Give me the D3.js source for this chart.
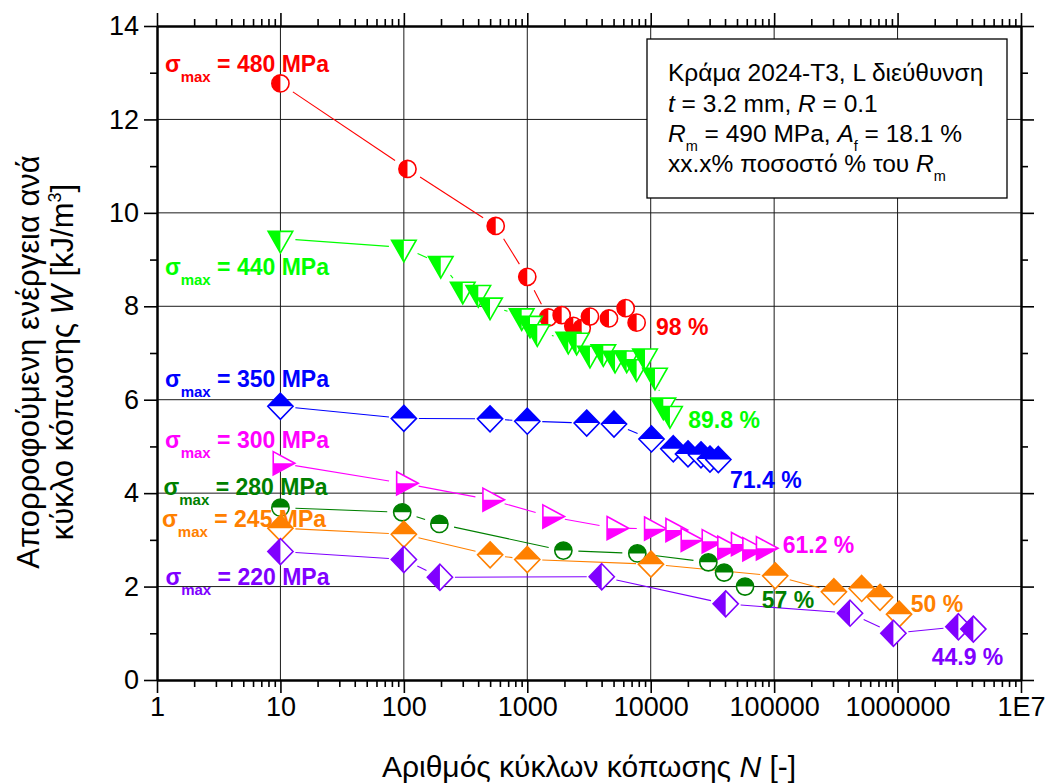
<!DOCTYPE html>
<html>
<head>
<meta charset="utf-8">
<script src="https://cdn.jsdelivr.net/npm/d3@7"></script>
<style>
  body { margin: 0; background: #fff; }
  svg { display: block; }
  text { font-family: "Liberation Sans", Arial, sans-serif; }
</style>
</head>
<body>
<svg id="chart" width="1056" height="784"></svg>
<script>
// ---- data: fatigue cycles N and absorbed energy per cycle W (kJ/m^3) ----
const stressLevels = [480, 440, 350, 300, 280, 245, 220];
const percentLabels = ["98 %", "89.8 %", "71.4 %", "61.2 %", "57 %", "50 %", "44.9 %"];

const cycles480 = [10, 107, 555, 1000, 1480, 1900, 2360, 2760, 3220, 4590, 6270, 7690];
const energy480 = [12.77, 10.94, 9.72, 8.63, 7.76, 7.81, 7.58, 7.53, 7.78, 7.74, 7.96, 7.65];

const cycles440 = [10, 100, 199, 300, 401, 499, 901, 1052, 1205, 2148, 2512, 3220, 4130, 5140, 6390, 7690, 8990, 10830, 12650, 14320];
const energy440 = [9.45, 9.26, 8.91, 8.36, 8.29, 8.02, 7.79, 7.63, 7.45, 7.29, 7.27, 6.99, 7.02, 6.88, 6.89, 6.70, 6.93, 6.52, 5.88, 5.70];

const cycles350 = [10, 100, 499, 1000, 3030, 5040, 10150, 15240, 20050, 25550, 30200, 35300];
const energy350 = [5.86, 5.60, 5.59, 5.54, 5.50, 5.48, 5.16, 4.95, 4.84, 4.82, 4.73, 4.72];

const cycles300 = [10, 100, 500, 1530, 5070, 10200, 15200, 20200, 29900, 40000, 51600, 63800, 82200];
const energy300 = [4.64, 4.21, 3.86, 3.50, 3.25, 3.24, 3.21, 3.00, 2.97, 2.83, 2.91, 2.80, 2.82];

const cycles280 = [10, 97, 194, 1960, 7790, 29300, 39300, 58100];
const energy280 = [3.69, 3.59, 3.34, 2.77, 2.71, 2.52, 2.30, 2.00];

const cycles245 = [10, 100, 500, 1000, 10050, 102000, 305000, 512000, 721000, 1028000];
const energy245 = [3.25, 3.12, 2.68, 2.58, 2.48, 2.23, 1.89, 1.96, 1.77, 1.41];

const cycles220 = [10, 100, 196, 4010, 40500, 412000, 925000, 3110000, 4110000];
const energy220 = [2.75, 2.58, 2.20, 2.21, 1.63, 1.43, 1.00, 1.14, 1.09];

const xTickValues = [1, 10, 100, 1e3, 1e4, 1e5, 1e6, 1e7];
const xTickLabels = ["1", "10", "100", "1000", "10000", "100000", "1000000", "1E7"];
const yTickValues = [0, 2, 4, 6, 8, 10, 12, 14];
const yMinorValues = [1, 3, 5, 7, 9, 11, 13];

// ---- annotation anchors, in data units (N, W) ----
const stressLabelAt = [[1.16, 13.02], [1.16, 8.67], [1.16, 6.27], [1.16, 4.96], [1.13, 3.96], [1.10, 3.28], [1.17, 2.03]];
const percentLabelAt = [[11040, 7.39], [20150, 5.39], [43900, 4.11], [117300, 2.71], [79300, 1.535], [1277000, 1.46], [1889000, 0.32]];

// ---- styling ----
const seriesColors = ["#ff0000", "#00ff00", "#0000ff", "#ff00ff", "#008000", "#ff8000", "#8000ff"];
const seriesShapes = ["circle", "triDown", "diamond", "triRight", "circle", "diamond", "diamond"];
const seriesHalves = ["left", "left", "top", "bottom", "top", "top", "left"];

const series = stressLevels.map((s, i) => ({
  stress: s,
  N: [cycles480, cycles440, cycles350, cycles300, cycles280, cycles245, cycles220][i],
  W: [energy480, energy440, energy350, energy300, energy280, energy245, energy220][i],
  color: seriesColors[i],
  shape: seriesShapes[i],
  half: seriesHalves[i],
  pct: percentLabels[i]
}));

const svg = d3.select("#chart");
const x = d3.scaleLog().domain([1, 1e7]).range([157, 1021]);
const y = d3.scaleLinear().domain([0, 14]).range([680, 26]);
const [x0, x1] = x.range();
const [y0, y1] = y.range();

// clip regions for the half-filled symbols (local symbol coordinates)
const defs = svg.append("defs");
const halves = {
  left: [-30, -30, 30, 60],
  right: [0, -30, 30, 60],
  top: [-30, -30, 60, 30],
  bottom: [-30, 0, 60, 30]
};
Object.entries(halves).forEach(([k, r]) => {
  defs.append("clipPath").attr("id", "half-" + k)
    .append("rect").attr("x", r[0]).attr("y", r[1]).attr("width", r[2]).attr("height", r[3]);
});

function shapePath(shape) {
  const p = d3.path();
  if (shape === "circle") {
    p.arc(0, 0, 8.6, 0, 2 * Math.PI);
  } else if (shape === "triDown") {
    p.moveTo(-12.3, -7.2); p.lineTo(12.3, -7.2); p.lineTo(0, 14.4); p.closePath();
  } else if (shape === "triRight") {
    p.moveTo(-7.2, -11.6); p.lineTo(14.4, 0); p.lineTo(-7.2, 11.6); p.closePath();
  } else {
    p.moveTo(0, -13); p.lineTo(12.6, 0); p.lineTo(0, 13); p.lineTo(-12.6, 0); p.closePath();
  }
  return p.toString();
}

// ---- grid ----
const grid = svg.append("g").attr("stroke", "#1a1a1a").attr("stroke-width", 1);
xTickValues.slice(1, -1).forEach(v => {
  grid.append("line").attr("x1", x(v)).attr("x2", x(v)).attr("y1", y0).attr("y2", y1);
});
yTickValues.slice(1, -1).forEach(v => {
  grid.append("line").attr("x1", x0).attr("x2", x1).attr("y1", y(v)).attr("y2", y(v));
});

// ---- connecting lines, broken around each symbol ----
const gap = 15;
const lines = svg.append("g").attr("fill", "none").attr("stroke-width", 1.1);
series.forEach(s => {
  const pts = s.N.map((n, i) => [x(n), y(s.W[i])]);
  for (let i = 0; i < pts.length - 1; i++) {
    const [ax, ay] = pts[i], [bx, by] = pts[i + 1];
    const dx = bx - ax, dy = by - ay, d = Math.hypot(dx, dy);
    if (d <= 2 * gap + 1) continue;
    const ux = dx / d, uy = dy / d;
    lines.append("line")
      .attr("x1", ax + ux * gap).attr("y1", ay + uy * gap)
      .attr("x2", bx - ux * gap).attr("y2", by - uy * gap)
      .attr("stroke", s.color);
  }
});

// ---- symbols ----
series.forEach(s => {
  const d = shapePath(s.shape);
  const g = svg.append("g");
  s.N.forEach((n, i) => {
    const m = g.append("g").attr("transform", `translate(${x(n)},${y(s.W[i])})`);
    m.append("path").attr("d", d).attr("fill", "#fff");
    m.append("path").attr("d", d).attr("fill", s.color).attr("clip-path", `url(#half-${s.half})`);
    m.append("path").attr("d", d).attr("fill", "none").attr("stroke", s.color).attr("stroke-width", 1.6);
  });
});

// ---- series annotations ----
series.forEach((s, i) => {
  const [ln, lw] = stressLabelAt[i];
  const t = svg.append("text")
    .attr("x", x(ln)).attr("y", y(lw))
    .attr("fill", s.color).attr("font-weight", "bold").attr("font-size", 23);
  t.append("tspan").text("σ");
  t.append("tspan").attr("font-size", 15).attr("dy", 10).text("max");
  t.append("tspan").attr("dy", -10).text(" = " + s.stress + " MPa");

  const [pn, pw] = percentLabelAt[i];
  svg.append("text")
    .attr("x", x(pn)).attr("y", y(pw))
    .attr("fill", s.color).attr("font-weight", "bold").attr("font-size", 23)
    .text(s.pct);
});

// ---- axes ----
const xMinor = [];
xTickValues.slice(0, -1).forEach(d => { for (let m = 2; m <= 9; m++) xMinor.push(d * m); });

function styleAxis(g) {
  g.selectAll("path.domain").attr("stroke", "#000").attr("stroke-width", 2);
  g.selectAll(".tick line").attr("stroke", "#000").attr("stroke-width", 1.6);
}
const tickFont = g => g.selectAll("text").attr("font-size", 27).attr("fill", "#000")
  .attr("font-family", '"Liberation Sans", Arial, sans-serif');

const xLabelFor = v => xTickLabels[xTickValues.indexOf(v)];
const MAJOR = 13, MINOR = 7;

svg.append("g").attr("transform", `translate(0,${y0})`)
  .call(d3.axisBottom(x).tickValues(xTickValues).tickFormat(xLabelFor).tickSize(MAJOR).tickSizeOuter(0).tickPadding(4))
  .call(styleAxis).call(tickFont);
svg.append("g").attr("transform", `translate(0,${y0})`)
  .call(d3.axisBottom(x).tickValues(xMinor).tickFormat("").tickSize(MINOR).tickSizeOuter(0))
  .call(styleAxis);

svg.append("g").attr("transform", `translate(0,${y1})`)
  .call(d3.axisTop(x).tickValues(xTickValues).tickFormat("").tickSize(MAJOR).tickSizeOuter(0))
  .call(styleAxis);
svg.append("g").attr("transform", `translate(0,${y1})`)
  .call(d3.axisTop(x).tickValues(xMinor).tickFormat("").tickSize(MINOR).tickSizeOuter(0))
  .call(styleAxis);

svg.append("g").attr("transform", `translate(${x0},0)`)
  .call(d3.axisLeft(y).tickValues(yTickValues).tickFormat(d3.format("d")).tickSize(MAJOR).tickSizeOuter(0).tickPadding(5))
  .call(styleAxis).call(tickFont);
svg.append("g").attr("transform", `translate(${x0},0)`)
  .call(d3.axisLeft(y).tickValues(yMinorValues).tickFormat("").tickSize(MINOR).tickSizeOuter(0))
  .call(styleAxis);

svg.append("g").attr("transform", `translate(${x1},0)`)
  .call(d3.axisRight(y).tickValues(yTickValues).tickFormat("").tickSize(MAJOR).tickSizeOuter(0))
  .call(styleAxis);
svg.append("g").attr("transform", `translate(${x1},0)`)
  .call(d3.axisRight(y).tickValues(yMinorValues).tickFormat("").tickSize(MINOR).tickSizeOuter(0))
  .call(styleAxis);

// ---- axis titles ----
const xt = svg.append("text").attr("x", 589).attr("y", 777)
  .attr("text-anchor", "middle").attr("font-size", 30).attr("fill", "#000");
xt.append("tspan").text("Αριθμός κύκλων κόπωσης ");
xt.append("tspan").attr("font-style", "italic").text("N");
xt.append("tspan").text(" [-]");

const yc = 362;
svg.append("text").attr("transform", `translate(39,${yc}) rotate(-90)`)
  .attr("text-anchor", "middle").attr("font-size", 31).attr("fill", "#000")
  .text("Απορροφούμενη ενέργεια ανά");
const yt = svg.append("text").attr("transform", `translate(73,${yc}) rotate(-90)`)
  .attr("text-anchor", "middle").attr("font-size", 31).attr("fill", "#000");
yt.append("tspan").text("κύκλο κόπωσης ");
yt.append("tspan").attr("font-style", "italic").text("W");
yt.append("tspan").text(" [kJ/m");
yt.append("tspan").attr("font-size", 18).attr("dy", -12).text("3");
yt.append("tspan").attr("dy", 12).text("]");

// ---- info box ----
const box = svg.append("g");
box.append("rect").attr("x", 647).attr("y", 39).attr("width", 360).attr("height", 159)
  .attr("fill", "#fff").attr("stroke", "#000").attr("stroke-width", 1.3);
const bx = 668, fs = 24.5, subFs = 14.5, subDy = 9;
const l1 = box.append("text").attr("x", bx).attr("y", 81).attr("font-size", fs);
l1.text("Κράμα 2024-T3, L διεύθυνση");
const l2 = box.append("text").attr("x", bx).attr("y", 112).attr("font-size", fs);
l2.append("tspan").attr("font-style", "italic").text("t");
l2.append("tspan").text(" = 3.2 mm, ");
l2.append("tspan").attr("font-style", "italic").text("R");
l2.append("tspan").text(" = 0.1");
const l3 = box.append("text").attr("x", bx).attr("y", 142).attr("font-size", fs);
l3.append("tspan").attr("font-style", "italic").text("R");
l3.append("tspan").attr("font-size", subFs).attr("dy", subDy).text("m");
l3.append("tspan").attr("dy", -subDy).text(" = 490 MPa, ");
l3.append("tspan").attr("font-style", "italic").text("A");
l3.append("tspan").attr("font-size", subFs).attr("dy", subDy).text("f");
l3.append("tspan").attr("dy", -subDy).text(" = 18.1 %");
const l4 = box.append("text").attr("x", bx).attr("y", 172).attr("font-size", fs);
l4.append("tspan").text("xx.x% ποσοστό % του ");
l4.append("tspan").attr("font-style", "italic").text("R");
l4.append("tspan").attr("font-size", subFs).attr("dy", subDy).text("m");
</script>
</body>
</html>
